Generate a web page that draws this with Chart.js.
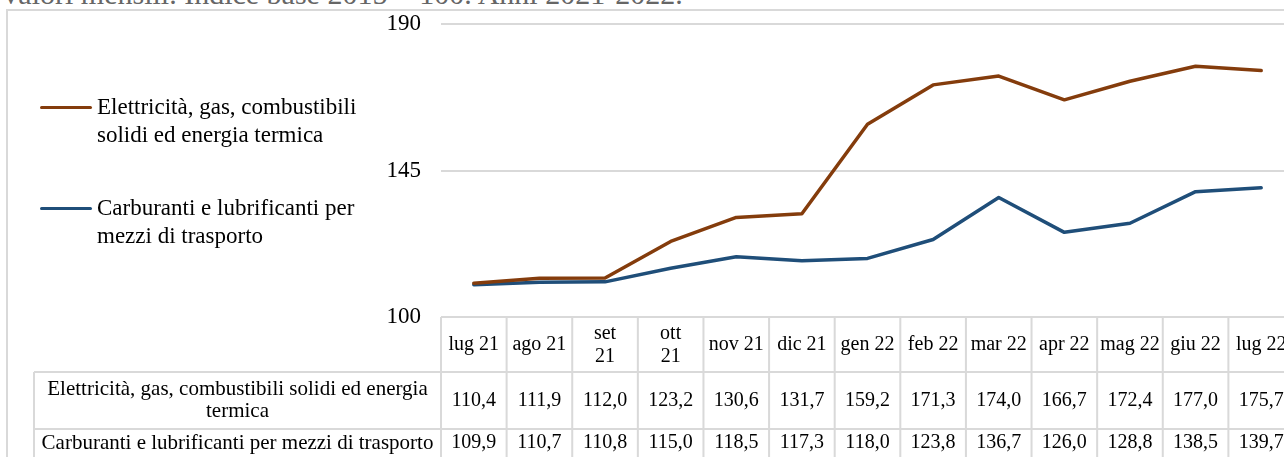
<!DOCTYPE html>
<html>
<head>
<meta charset="utf-8">
<script src="https://cdn.jsdelivr.net/npm/chart.js@4.4.0/dist/chart.umd.min.js"></script>
<style>
html, body { margin: 0; padding: 0; background: #fff; width: 1284px; height: 457px; overflow: hidden; }
body { position: relative; font-family: "Liberation Serif", serif; }
.titolo { position: absolute; left: 0; top: -21px; font-family: "Liberation Serif", serif; font-size: 30px; line-height: 1; color: #666; white-space: nowrap; }
.cornice { position: absolute; left: 6px; top: 9px; width: 1400px; height: 600px; border: 2px solid #d9d9d9; box-sizing: border-box; }
canvas { position: absolute; left: 0; top: 0; }
.legenda { position: absolute; left: 40px; top: 0; }
.voce { position: absolute; left: 0; display: flex; align-items: flex-start; }
.voce .linea { width: 52px; height: 3px; margin-top: 13px; border-radius: 2px; }
.voce .testo { width: 275px; margin-left: 5px; font-family: "Liberation Serif", serif; font-size: 23px; line-height: 28px; color: #000; }
</style>
</head>
<body>
<div class="titolo">Valori mensili. Indice base 2015 = 100. Anni 2021-2022.</div>
<div class="cornice"></div>
<canvas id="grafico" width="1310" height="457"></canvas>
<div class="legenda" id="legenda"></div>
<script>
const mesi = ["lug 21", "ago 21", "set 21", "ott 21", "nov 21", "dic 21", "gen 22",
              "feb 22", "mar 22", "apr 22", "mag 22", "giu 22", "lug 22"];
const mesiACapo = ["set 21", "ott 21"];
const serie = ["Elettricità, gas, combustibili solidi ed energia termica",
               "Carburanti e lubrificanti per mezzi di trasporto"];
const elettricita = [110.4, 111.9, 112.0, 123.2, 130.6, 131.7, 159.2, 171.3, 174.0, 166.7, 172.4, 177.0, 175.7];
const carburanti = [109.9, 110.7, 110.8, 115.0, 118.5, 117.3, 118.0, 123.8, 136.7, 126.0, 128.8, 138.5, 139.7];
const tickY = [100, 145, 190];
const colori = ["#843c0c", "#1f4e79"];

const font = '"Liberation Serif", serif';
const fmt = v => v.toFixed(1).replace(".", ",");

const wrap = (ctx, text, maxW) => {
    const words = text.split(" ");
    const lines = [];
    let cur = "";
    words.forEach(w => {
        const t = cur ? cur + " " + w : w;
        if (ctx.measureText(t).width > maxW && cur) {
            lines.push(cur);
            cur = w;
        } else {
            cur = t;
        }
    });
    lines.push(cur);
    return lines;
};

const tabella = {
    id: "tabella",
    afterDraw(chart) {
        const { ctx, chartArea: a, scales: { x } } = chart;
        const w = x.getPixelForTick(1) - x.getPixelForTick(0);
        const sx = 34;
        const r0 = a.bottom, r1 = a.bottom + 55, r2 = r1 + 57, r3 = r2 + 60;
        const right = x.getPixelForTick(mesi.length - 1) + w / 2;

        ctx.save();
        ctx.strokeStyle = "#d9d9d9";
        ctx.lineWidth = 2;
        ctx.beginPath();
        ctx.moveTo(a.left, r0); ctx.lineTo(right, r0);
        ctx.moveTo(sx, r1); ctx.lineTo(right, r1);
        ctx.moveTo(sx, r2); ctx.lineTo(right, r2);
        ctx.moveTo(sx, r1); ctx.lineTo(sx, r3);
        for (let i = 0; i <= mesi.length; i++) {
            const px = x.getPixelForTick(0) - w / 2 + i * w;
            ctx.moveTo(px, r0); ctx.lineTo(px, r3);
        }
        ctx.stroke();

        ctx.fillStyle = "#000";
        ctx.textAlign = "center";
        ctx.textBaseline = "middle";
        ctx.font = "20px " + font;
        mesi.forEach((m, i) => {
            const cx = x.getPixelForTick(i);
            if (mesiACapo.includes(m)) {
                const p = m.split(" ");
                ctx.fillText(p[0], cx, (r0 + r1) / 2 - 11);
                ctx.fillText(p[1], cx, (r0 + r1) / 2 + 12);
            } else {
                ctx.fillText(m, cx, (r0 + r1) / 2);
            }
        });

        const valori = [elettricita, carburanti];
        const centri = [(r1 + r2) / 2, r2 + 14];
        valori.forEach((vals, k) => {
            ctx.font = "20px " + font;
            vals.forEach((v, i) => ctx.fillText(fmt(v), x.getPixelForTick(i), centri[k]));
            ctx.font = "21px " + font;
            const righe = wrap(ctx, serie[k], 394);
            const hc = (sx + a.left) / 2;
            righe.forEach((t, j) => {
                ctx.fillText(t, hc, centri[k] + (j - (righe.length - 1) / 2) * 22);
            });
        });
        ctx.restore();
    }
};

new Chart(document.getElementById("grafico"), {
    type: "line",
    data: {
        labels: mesi,
        datasets: [
            { label: serie[0], data: elettricita, borderColor: colori[0] },
            { label: serie[1], data: carburanti, borderColor: colori[1] },
        ],
    },
    options: {
        responsive: false,
        animation: false,
        layout: { padding: { left: 361, right: 16, top: 24, bottom: 140 } },
        elements: {
            line: { borderWidth: 3.5, tension: 0, borderCapStyle: "round", borderJoinStyle: "round" },
            point: { radius: 0 },
        },
        scales: {
            x: { display: false, offset: true },
            y: {
                min: 100,
                max: 190,
                afterFit: s => { s.width = 80; s.paddingTop = 0; s.paddingBottom = 0; },
                afterBuildTicks: s => { s.ticks = tickY.map(v => ({ value: v })); },
                grid: { color: "#d9d9d9", lineWidth: 2, drawTicks: false },
                border: { display: false },
                ticks: { padding: 20, color: "#000", font: { family: font, size: 23 } },
            },
        },
        plugins: { legend: { display: false }, tooltip: { enabled: false } },
    },
    plugins: [tabella],
});

const legenda = document.getElementById("legenda");
const topVoci = [93, 194];
serie.forEach((s, i) => {
    const d = document.createElement("div");
    d.className = "voce";
    d.style.top = topVoci[i] + "px";
    d.innerHTML = `<div class="linea" style="background:${colori[i]}"></div><div class="testo">${s}</div>`;
    legenda.appendChild(d);
});
</script>
</body>
</html>
